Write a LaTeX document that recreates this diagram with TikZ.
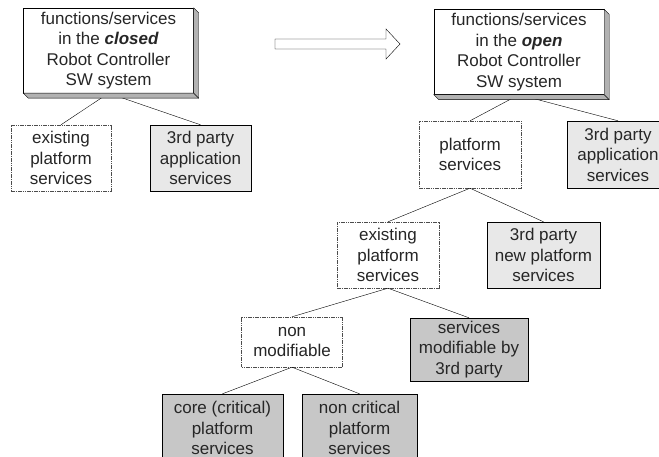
\documentclass[tikz,border=0pt]{standalone}
\usepackage{fontspec}
\setmainfont{Liberation Sans}
\usetikzlibrary{calc}

% raised edge under a system box
\newcommand{\boxshadow}[1]{%
  \filldraw[fill=black!30, thin] (#1.north east) -- ++(5,5) -- ($(#1.south east)+(5,5)$)
    -- ($(#1.south west)+(5,5)$) -- (#1.south west) -- (#1.south east) -- cycle;
  \draw[thin] (#1.south east) -- ++(5,5);
}

\begin{document}
\begin{tikzpicture}[x=1pt, y=-1pt,
    box/.style={draw, thin, align=center, inner sep=0pt, text=black!85,
      font=\fontsize{17}{20.5}\selectfont},
    sys/.style={box, fill=white, minimum width=170pt, minimum height=85pt},
    plat/.style={box, draw=black!70, dash pattern=on 1.6pt off 0.7pt, fill=white},
    third/.style={box, fill=black!9},
    mod/.style={box, fill=black!22},
    link/.style={thin}]
    \clip (0,0) rectangle (659,457);

    \node[sys] (closed) at (108.5,50.5) {functions/services\\in the \textbf{\textit{closed}}\\Robot Controller\\SW system};
    \node[sys] (open) at (519,52) {functions/services\\in the \textbf{\textit{open}}\\Robot Controller\\SW system};

    \node[plat, minimum width=100pt, minimum height=66pt] (exist1) at (61,158) {existing\\platform\\services};
    \node[third, minimum width=101pt, minimum height=66pt] (app1) at (200.5,158) {3rd party\\application\\services};

    \node[plat, minimum width=102pt, minimum height=67pt] (platform) at (470,154.5) {platform\\services};
    \node[third, minimum width=102pt, minimum height=67pt] (app2) at (618,154.5) {3rd party\\application\\services};

    \node[plat, minimum width=102pt, minimum height=66pt] (exist2) at (388,255) {existing\\platform\\services};
    \node[third, minimum width=113pt, minimum height=66pt] (newplat) at (543.5,255) {3rd party\\new platform\\services};

    \node[plat, minimum width=101pt, minimum height=50pt] (nonmod) at (292,342) {non\\modifiable};
    \node[mod, minimum width=118pt, minimum height=63pt] (modif) at (469,349.5) {services\\modifiable by\\3rd party};

    \node[mod, minimum width=121pt, minimum height=68pt] (core) at (222.5,428) {core (critical)\\platform\\services};
    \node[mod, minimum width=115pt, minimum height=68pt] (noncrit) at (359.5,428) {non critical\\platform\\services};

    \draw[link] (closed.south) -- (exist1.north);
    \draw[link] (closed.south) -- (app1.north);
    \draw[link] (open.south) -- (platform.north);
    \draw[link] (open.south) -- (app2.north);
    \draw[link] (platform.south) -- (exist2.north);
    \draw[link] (platform.south) -- (newplat.north);
    \draw[link] (exist2.south) -- (nonmod.north);
    \draw[link] (exist2.south) -- (modif.north);
    \draw[link] (nonmod.south) -- (core.north);
    \draw[link] (nonmod.south) -- (noncrit.north);

    \boxshadow{closed}
    \boxshadow{open}

    % closed -> open
    \coordinate (tail) at (275,44);
    \coordinate (tip) at (400,44);
    \filldraw[fill=white, thin] ($(tail)+(0,-5)$) -- ($(tip)+(-14,-5)$) -- ($(tip)+(-14,-15)$) -- (tip)
      -- ($(tip)+(-14,15)$) -- ($(tip)+(-14,5)$) -- ($(tail)+(0,5)$) -- cycle;
\end{tikzpicture}
\end{document}
